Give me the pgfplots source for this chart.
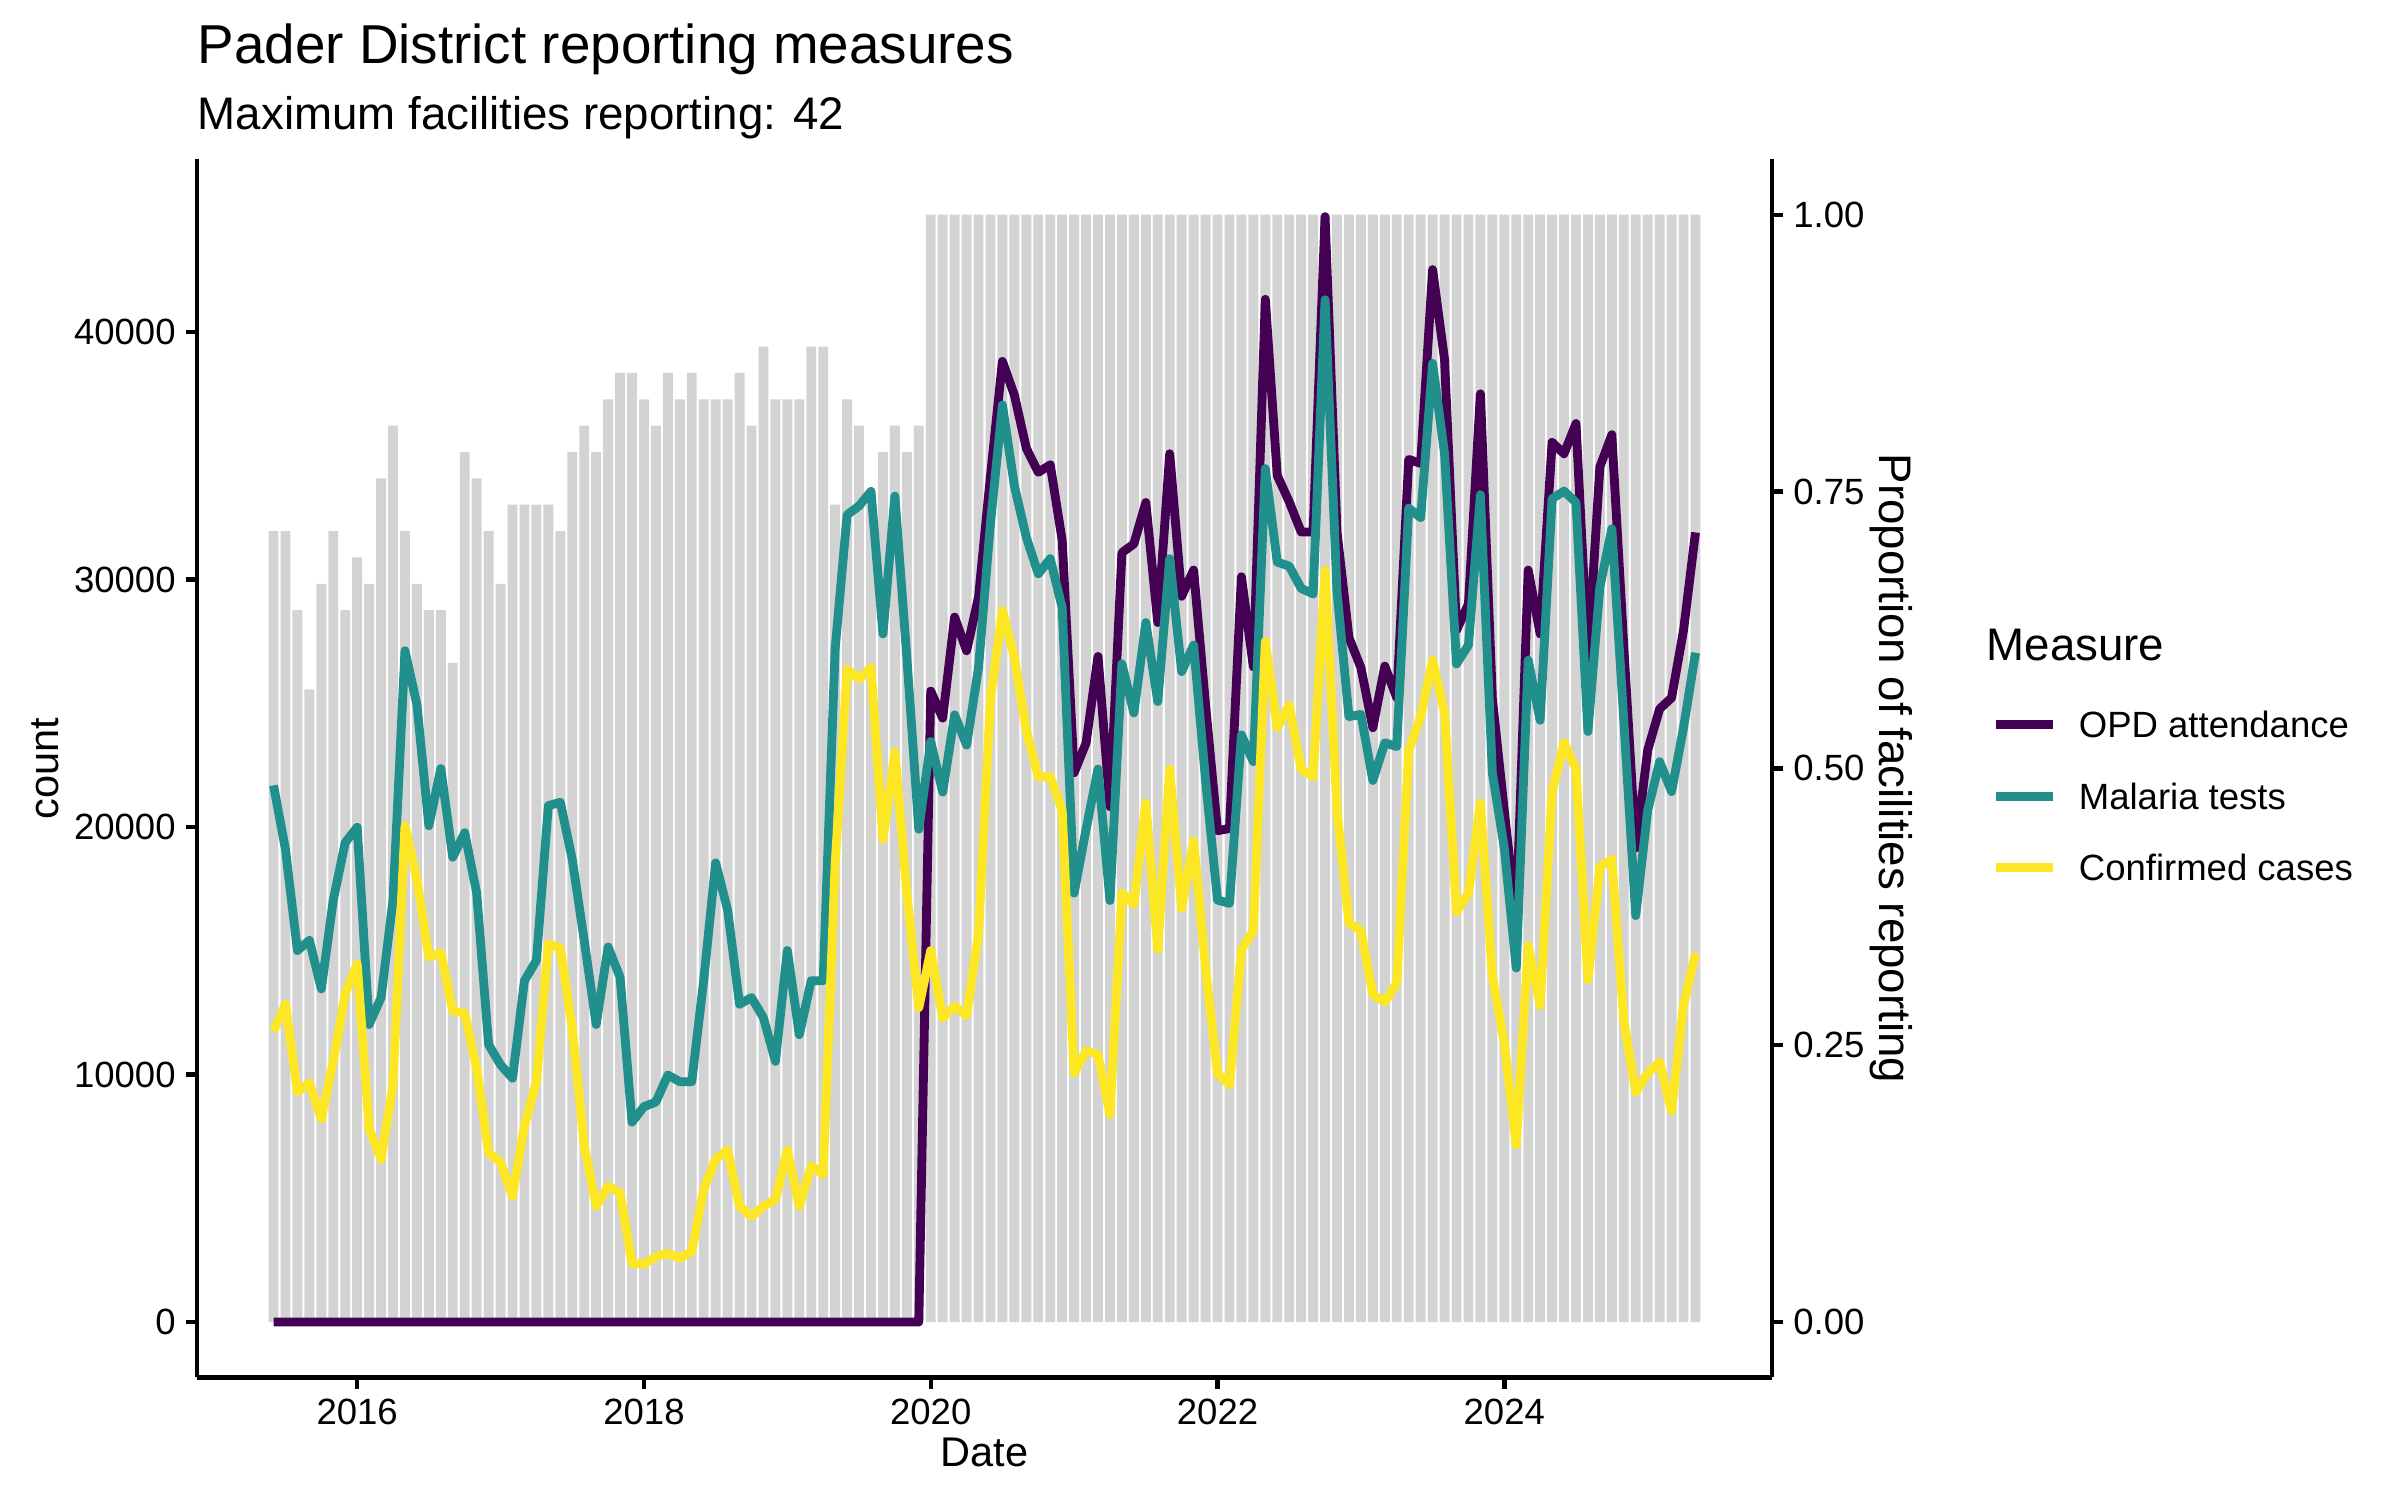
\documentclass[border=0pt]{standalone}
\usepackage{fontspec}
\setmainfont{Liberation Sans}
\usepackage{pgfplots}
\usepackage{pgfplotstable}
\pgfplotsset{compat=1.18}

\definecolor{opdcol}{HTML}{440154}
\definecolor{malcol}{HTML}{21908C}
\definecolor{confcol}{HTML}{FDE725}
\definecolor{barcol}{HTML}{D3D3D3}

% i = month index (0 = Jun 2015), fac = facilities reporting (of 42)
\pgfplotstableread{
i fac opd mal conf
0 30 0 21680 11750
1 30 0 19090 12840
2 27 0 15010 9300
3 24 0 15420 9660
4 28 0 13460 8210
5 30 0 17050 10530
6 27 0 19370 13250
7 29 0 19990 14470
8 28 0 12020 7810
9 32 0 13110 6580
10 34 0 17050 9570
11 30 0 27120 20050
12 28 0 24940 17870
13 27 0 20050 14740
14 27 0 22360 14930
15 25 0 18780 12570
16 33 0 19770 12480
17 32 0 17330 10250
18 30 0 11210 6850
19 28 0 10390 6450
20 31 0 9850 5090
21 31 0 13790 7940
22 31 0 14610 9710
23 31 0 20860 15290
24 30 0 21000 15100
25 33 0 18690 11890
26 34 0 15420 7130
27 33 0 12020 4680
28 35 0 15150 5490
29 36 0 13930 5220
30 36 0 8080 2370
31 35 0 8700 2340
32 34 0 8890 2640
33 36 0 9980 2770
34 35 0 9710 2580
35 36 0 9710 2860
36 35 0 13800 5360
37 35 0 18550 6580
38 35 0 16650 6940
39 36 0 12840 4680
40 34 0 13110 4270
41 37 0 12290 4680
42 35 0 10530 4950
43 35 0 15010 6940
44 35 0 11610 4680
45 37 0 13790 6310
46 37 0 13790 5960
47 31 0 27200 18500
48 35 0 32610 26360
49 34 0 32970 25980
50 31 0 33560 26440
51 33 0 27800 19500
52 34 0 33370 23040
53 33 0 26850 17330
54 34 0 19910 12700
55 42 25490 23450 15010
56 42 24400 21410 12290
57 42 28480 24530 12760
58 42 27120 23310 12380
59 42 29290 26440 15690
60 42 34190 32290 25210
61 42 38810 37050 28750
62 42 37450 33780 26850
63 42 35300 31700 23900
64 42 34330 30230 22030
65 42 34630 30840 22030
66 42 31590 28860 20670
67 42 22190 17330 10050
68 42 23400 19910 10960
69 42 26890 22340 10800
70 42 20820 17030 8380
71 42 31080 26590 17330
72 42 31440 24610 16870
73 42 33110 28260 20970
74 42 28260 25070 15050
75 42 35080 30840 22340
76 42 29320 26280 16720
77 42 30380 27350 19450
78 42 24920 21880 14300
79 42 19850 17050 10050
80 42 19940 16910 9590
81 42 30110 23720 15050
82 42 26470 22640 15810
83 42 41320 34480 27500
84 42 34200 30700 24010
85 42 33140 30540 24920
86 42 31920 29640 22340
87 42 31920 29420 22030
88 42 44660 41300 30380
89 42 31920 29490 20670
90 42 27650 24460 16120
91 42 26440 24550 15810
92 42 24010 21880 13230
93 42 26500 23400 12930
94 42 25220 23250 13690
95 42 34850 32880 23100
96 42 34690 32500 24460
97 42 42520 38730 26740
98 42 38880 35090 24610
99 42 27950 26590 16570
100 42 29010 27350 17330
101 42 37500 33420 20970
102 42 25200 22190 13990
103 42 20650 19150 11260
104 42 16270 14300 7160
105 42 30380 26740 15210
106 42 27800 24310 12780
107 42 35540 33260 21430
108 42 35080 33570 23400
109 42 36300 33110 22340
110 42 26740 23860 13840
111 42 34550 29700 18390
112 42 35850 32050 18700
113 42 27300 24310 12170
114 42 19150 16420 9290
115 42 23100 20670 10050
116 42 24770 22640 10500
117 42 25220 21430 8530
118 42 27950 24010 12780
119 42 31900 27040 14900
}\pader

\pgfplotsset{
  padercommon/.style={
    scale only axis, width=5.25in, height=4.06in,
    at={(0,0)}, anchor=south west,
    xmin=-6.405, xmax=125.405,
    scaled x ticks=false, scaled y ticks=false,
    tick align=outside, major tick length=2.75pt,
    tick style={black, line width=1.07pt},
    axis line style={-, black, line width=1.07pt},
    ticklabel style={font=\fontsize{8.8}{10}\selectfont, inner sep=0pt},
    label style={font=\fontsize{11}{13}\selectfont, inner sep=0pt},
    /pgf/number format/assume math mode=true,
  },
}

\begin{document}
\begin{tikzpicture}
% reporting proportion (bars, right axis)
\begin{axis}[padercommon,
  axis x line=none, axis y line*=right,
  ybar, bar width=0.828,
  ymin=-2.1, ymax=44.1,
  ytick={0,10.5,21,31.5,42}, yticklabels={0.00,0.25,0.50,0.75,1.00},
  yticklabel shift=2.2pt,
  ylabel={Proportion of facilities reporting},
  every axis y label/.style={at={(axis description cs:1.0756,0.5)}, rotate=-90, anchor=center,
    font=\fontsize{11}{13}\selectfont, inner sep=0pt},
]
\addplot[fill=barcol, draw=none, bar shift=0pt] table[x=i, y=fac] {\pader};
\end{axis}

% counts (lines, left axis)
\begin{axis}[padercommon,
  axis x line*=bottom, axis y line*=left,
  ymin=-2236.75, ymax=46971.75,
  xtick={7,31,55,79,103}, xticklabels={2016,2018,2020,2022,2024},
  ytick={0,10000,20000,30000,40000}, yticklabels={0,10000,20000,30000,40000},
  xticklabel shift=2.2pt, yticklabel shift=2.2pt,
  xlabel={Date}, ylabel={count},
  every axis x label/.style={at={(axis description cs:0.5,0)}, anchor=base, yshift=-21.58pt},
  every axis y label/.style={at={(axis description cs:-0.0965,0.5)}, rotate=90, anchor=center},
  legend style={at={(axis description cs:1.1394,0.5546)}, anchor=north west,
    draw=none, fill=none, inner sep=0pt, outer sep=0pt, row sep=0pt, column sep=5.1pt,
    font=\fontsize{8.8}{10}\selectfont, cells={anchor=base west},
    nodes={inner sep=0pt, text height=8.61pt, text depth=8.61pt}},
  legend image code/.code={\draw[#1] (0pt,3.07pt) -- (13.8pt,3.07pt);},
]
\addplot[opdcol, line width=2.13pt, line join=round] table[x=i, y=opd] {\pader};
\addlegendentry{OPD attendance}
\addplot[malcol, line width=2.13pt, line join=round] table[x=i, y=mal] {\pader};
\addlegendentry{Malaria tests}
\addplot[confcol, line width=2.13pt, line join=round] table[x=i, y=conf] {\pader};
\addlegendentry{Confirmed cases}
\end{axis}

\node[anchor=base west, inner sep=0pt, font=\fontsize{13.2}{15}\selectfont] at (0in,4.378in) {Pader District reporting measures};
\node[anchor=base west, inner sep=0pt, font=\fontsize{11}{13}\selectfont] at (0in,4.158in) {Maximum facilities reporting: 42};
\node[anchor=base west, inner sep=0pt, font=\fontsize{11}{13}\selectfont] at (5.963in,2.388in) {Measure};

\pgfresetboundingbox
\path[use as bounding box] (-0.65667in,-0.40867in) rectangle (7.34333in,4.59133in);
\end{tikzpicture}
\end{document}
